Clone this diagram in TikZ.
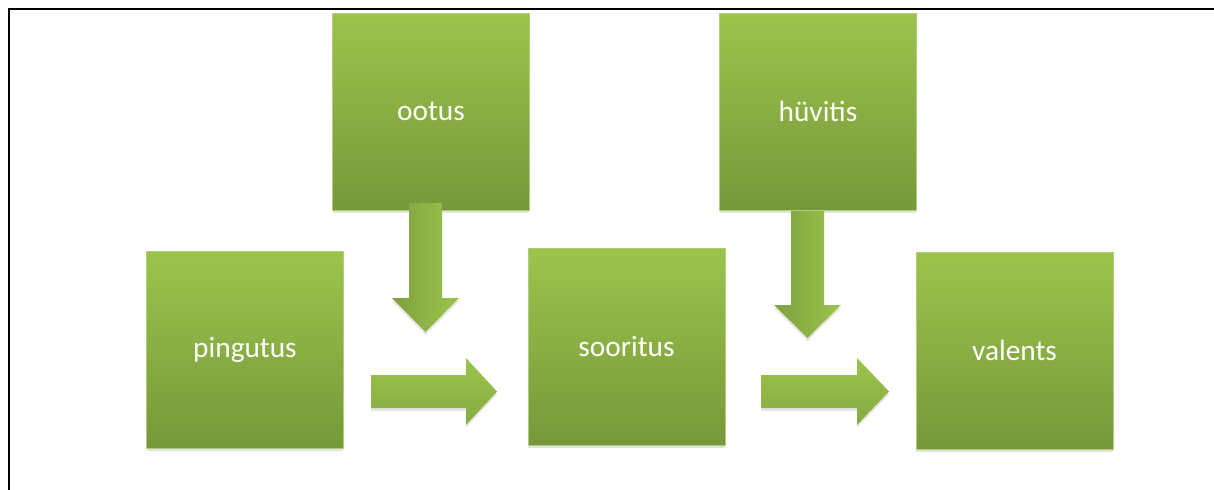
\documentclass[tikz,border=0pt]{standalone}
\usepackage{fontspec}
\setmainfont{Carlito}
\usetikzlibrary{shadows}
\definecolor{heleroheline}{HTML}{9CC44C}
\definecolor{tumeroheline}{HTML}{77983A}
\definecolor{servroheline}{HTML}{AFCE78}

\begin{document}
\begin{tikzpicture}[x=0.02cm,y=-0.02cm,
  kast/.style={rectangle, minimum width=3.94cm, minimum height=3.94cm, inner sep=0pt,
    top color=heleroheline, bottom color=tumeroheline, draw=servroheline, line width=0.4pt,
    text=white, font=\fontsize{16.7}{20}\selectfont,
    drop shadow={shadow xshift=0pt, shadow yshift=-0.06cm, opacity=0.22}},
  nool/.style={drop shadow={shadow xshift=0pt, shadow yshift=-0.06cm, opacity=0.2}},
  allanool/.style={nool, left color=tumeroheline!80!heleroheline, right color=heleroheline},
  paremnool/.style={nool, top color=heleroheline, bottom color=tumeroheline!60!heleroheline}]
\useasboundingbox (0,0) rectangle (1214,490);
% raam
\draw [line width=1.7pt] (1214,9) -- (9,9) -- (9,490);
% kastid
\node [kast] (ootus) at (431,111.5) {ootus};
\node [kast] (huvitis) at (818,111.5) {hüvitis};
\node [kast] (pingutus) at (245,349.5) {pingutus};
\node [kast] (sooritus) at (626.5,346.5) {sooritus};
\node [kast] (valents) at (1014.5,350.5) {valents};
% nooled
\path [allanool] (409,203) -- (442,203) -- (442,298) -- (459,298) -- (425.5,332) -- (392,298) -- (409,298) -- cycle;
\path [paremnool] (371,375) -- (466,375) -- (466,358) -- (497,391.5) -- (466,425) -- (466,408) -- (371,408) -- cycle;
\path [allanool] (791,211) -- (824,211) -- (824,305) -- (841,305) -- (807.5,338) -- (774,305) -- (791,305) -- cycle;
\path [paremnool] (761,375) -- (857,375) -- (857,358) -- (889,391.5) -- (857,425) -- (857,408) -- (761,408) -- cycle;
\end{tikzpicture}
\end{document}
